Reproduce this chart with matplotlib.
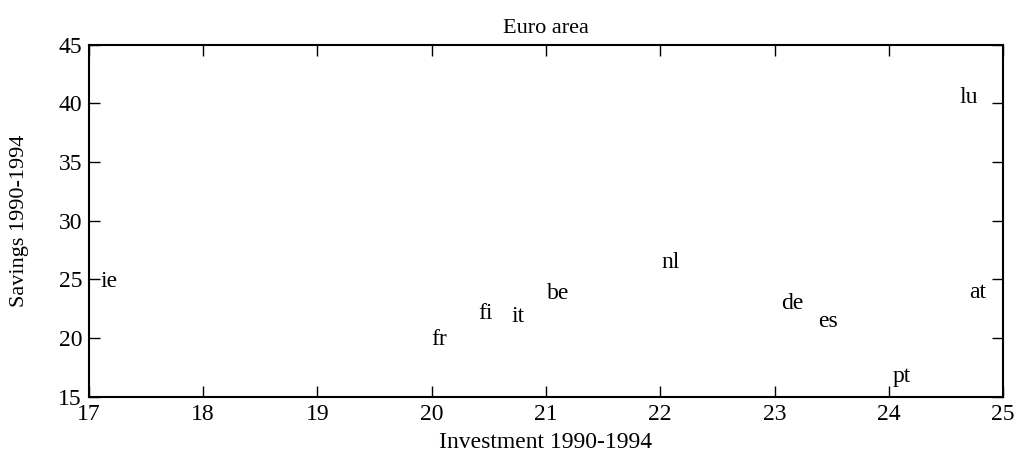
import matplotlib.pyplot as plt
import numpy as np

plt.rcParams['font.family'] = ['Liberation Serif', 'DejaVu Serif']

# country codes with investment and savings ratios (% of GDP), 1990-1994
countries = ['ie', 'fr', 'fi', 'it', 'be', 'nl', 'de', 'es', 'pt', 'at', 'lu']
investment = [17.1, 20.0, 20.41, 20.7, 21.01, 22.01, 23.06, 23.38, 24.03, 24.70, 24.62]
savings = [24.8, 19.9, 22.1, 21.8, 23.75, 26.4, 22.9, 21.4, 16.7, 23.9, 40.5]

x_ticks = np.arange(17, 26, 1)
y_ticks = np.arange(15, 50, 5)

fig = plt.figure(figsize=(10.26, 4.57), dpi=100)
ax = fig.add_axes([0.0867, 0.132, 0.8909, 0.7706])

for name, inv, sav in zip(countries, investment, savings):
    ax.text(inv, sav, name, fontsize=17, ha='left', va='center')

ax.set_xlim(17, 25)
ax.set_ylim(15, 45)
ax.set_xticks(x_ticks)
ax.set_yticks(y_ticks)
ax.tick_params(direction='in', top=True, right=True, length=8, width=1,
               labelsize=17, pad=5)
for s in ax.spines.values():
    s.set_linewidth(1.5)

ax.set_title('Euro area', fontsize=16, pad=8)
ax.set_xlabel('Investment 1990-1994', fontsize=17)
ax.set_ylabel('Savings 1990-1994', fontsize=16)
ax.xaxis.set_label_coords(0.5, -0.10)
ax.yaxis.set_label_coords(-0.066, 0.5)

fig.savefig('out.png', dpi=100)
